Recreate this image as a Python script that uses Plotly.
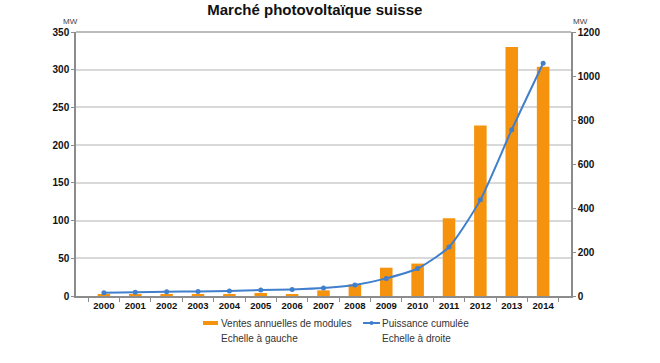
import plotly.graph_objects as go

years = [str(y) for y in range(2000, 2015)]
ventes_annuelles = [2.0, 2.0, 1.8, 1.6, 2.2, 4.0, 2.5, 7.5, 15.5, 37.5, 43, 103, 226, 330, 304]
puissance_cumulee = [15, 17, 19.5, 21, 23, 27, 30, 36, 50, 80, 125, 223, 437, 756, 1058]

ORANGE = "#f5930f"
BLUE = "#3f7fcc"
FONT = "Liberation Sans, Arial, sans-serif"

fig = go.Figure()
fig.add_trace(go.Bar(
    x=years, y=ventes_annuelles, name="Ventes annuelles de modules",
    marker=dict(color=ORANGE, line=dict(width=0)), width=0.4, showlegend=False,
))
fig.add_trace(go.Scatter(
    x=years, y=puissance_cumulee, name="Puissance cumulée", yaxis="y2",
    mode="lines+markers", line=dict(color=BLUE, width=2, shape="spline", smoothing=0.6),
    marker=dict(color=BLUE, size=5), showlegend=False,
))

fig.update_layout(
    width=660, height=363, autosize=False,
    margin=dict(l=76, r=89, t=32, b=67, pad=0, autoexpand=False),
    paper_bgcolor="white", plot_bgcolor="white",
    font=dict(family=FONT, color="#111"),
    title=dict(text="<b>Marché photovoltaïque suisse</b>", x=0.477, xanchor="center",
               y=1 - 9.5 / 363, yanchor="middle", yref="container", automargin=False,
               font=dict(size=15, color="#111", family=FONT)),
    xaxis=dict(
        type="category", showline=True, linecolor="#8c8c8c", linewidth=1.5,
        ticks="outside", tickson="boundaries", ticklen=4, tickcolor="#8c8c8c",
        tickfont=dict(size=9.5, family=FONT, color="#111", weight="bold"),
        showgrid=False, automargin=False,
    ),
    yaxis=dict(
        range=[0, 350], dtick=50, showline=True, linecolor="#8c8c8c", linewidth=1.5,
        ticks="outside", ticklen=3, tickcolor="#8c8c8c",
        tickfont=dict(size=10, family=FONT, color="#111", weight="bold"),
        showgrid=True, gridcolor="#d9d9d9", gridwidth=1.5, zeroline=False, automargin=False,
    ),
    yaxis2=dict(
        range=[0, 1200], dtick=200, overlaying="y", side="right",
        showline=True, linecolor="#8c8c8c", linewidth=1.5,
        ticks="outside", ticklen=3, tickcolor="#8c8c8c",
        tickfont=dict(size=10, family=FONT, color="#111", weight="bold"),
        showgrid=False, zeroline=False, automargin=False,
    ),
)

# top border of plot area
fig.add_shape(type="line", xref="paper", yref="paper", x0=0, x1=1, y0=1, y1=1,
              line=dict(color="#a6a6a6", width=1.5))

# manual legend helpers (pixel -> paper)
def px_x(px):
    return (px - 76) / 495

def px_y(py):
    return (296 - py) / 264

# axis unit labels
fig.add_annotation(text="MW", xref="paper", yref="paper", x=px_x(60.5), y=px_y(15),
                   showarrow=False, font=dict(size=8, color="#444", family=FONT))
fig.add_annotation(text="MW", xref="paper", yref="paper", x=px_x(589.5), y=px_y(15),
                   showarrow=False, font=dict(size=8, color="#444", family=FONT))

fig.add_shape(type="rect", xref="paper", yref="paper",
              x0=px_x(203), x1=px_x(218), y0=px_y(325), y1=px_y(321),
              fillcolor=ORANGE, line=dict(width=0))
fig.add_annotation(text="Ventes annuelles de modules", xref="paper", yref="paper",
                   x=px_x(219), y=px_y(323), xanchor="left", yanchor="middle",
                   showarrow=False, font=dict(size=10, color="#333", family=FONT))
fig.add_annotation(text="Echelle à gauche", xref="paper", yref="paper",
                   x=px_x(219), y=px_y(338), xanchor="left", yanchor="middle",
                   showarrow=False, font=dict(size=10, color="#333", family=FONT))

fig.add_shape(type="line", xref="paper", yref="paper",
              x0=px_x(363), x1=px_x(380), y0=px_y(323), y1=px_y(323),
              line=dict(color=BLUE, width=2))
fig.add_shape(type="circle", xref="paper", yref="paper",
              x0=px_x(369.5), x1=px_x(373.5), y0=px_y(325), y1=px_y(321),
              fillcolor=BLUE, line=dict(width=0))
fig.add_annotation(text="Puissance cumulée", xref="paper", yref="paper",
                   x=px_x(380), y=px_y(323), xanchor="left", yanchor="middle",
                   showarrow=False, font=dict(size=10, color="#333", family=FONT))
fig.add_annotation(text="Echelle à droite", xref="paper", yref="paper",
                   x=px_x(380), y=px_y(338), xanchor="left", yanchor="middle",
                   showarrow=False, font=dict(size=10, color="#333", family=FONT))

fig.write_html("out.html", config={"displayModeBar": False},
               post_script="document.body.style.margin='0';")
